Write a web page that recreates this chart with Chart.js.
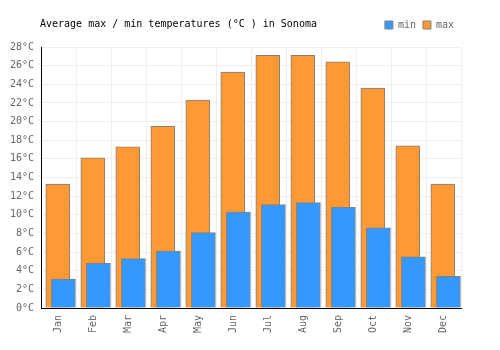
<!DOCTYPE html>
<html>
<head>
<meta charset="utf-8">
<script src="https://cdn.jsdelivr.net/npm/chart.js@4"></script>
<style>
  html, body { margin: 0; padding: 0; background: #fff; }
  #wrap { width: 500px; height: 350px; }
</style>
</head>
<body>
<div id="wrap"><canvas id="canvas" width="500" height="350"></canvas></div>
<script>
const months = ['Jan', 'Feb', 'Mar', 'Apr', 'May', 'Jun', 'Jul', 'Aug', 'Sep', 'Oct', 'Nov', 'Dec'];
const minTemps = [3.1, 4.8, 5.3, 6.1, 8.1, 10.3, 11.1, 11.3, 10.8, 8.6, 5.5, 3.4];
const maxTemps = [13.3, 16.1, 17.3, 19.5, 22.3, 25.3, 27.1, 27.1, 26.4, 23.6, 17.4, 13.3];
const yMin = 0, yMax = 28, yStep = 2;

const mono = 'DejaVu Sans Mono';
const titleText = 'Average max / min temperatures (°C ) in Sonoma';

// bars overlap a little: max sits left, min shifted right
const maxShift = -0.02;
const minShift = 0.14;

const titlePlugin = {
  id: 'leftTitle',
  afterInit(chart) {
    // extra room under the legend row
    const lg = chart.legend;
    if (lg) {
      const fit = lg.fit;
      lg.fit = function () { fit.call(this); this.height += 7; };
    }
  },
  afterDraw(chart) {
    const c = chart.ctx;
    c.save();
    c.font = '10px "' + mono + '"';
    c.fillStyle = '#000';
    c.textBaseline = 'middle';
    c.textAlign = 'left';
    c.fillText(titleText, 40, 24);
    c.restore();
  }
};

const ctx = document.getElementById('canvas');
const chart = new Chart(ctx, {
  type: 'bar',
  data: {
    labels: months,
    datasets: [{
      label: 'min',
      data: minTemps.map((v, i) => ({ x: i + minShift, y: v })),
      xAxisID: 'xb',
      backgroundColor: 'rgb(51, 153, 255)',
      borderColor: '#808080',
      borderWidth: 1,
      grouped: false,
      barThickness: 24
    }, {
      label: 'max',
      data: maxTemps.map((v, i) => ({ x: i + maxShift, y: v })),
      xAxisID: 'xb',
      backgroundColor: 'rgb(255, 153, 51)',
      borderColor: '#808080',
      borderWidth: 1,
      grouped: false,
      barThickness: 24
    }]
  },
  options: {
    responsive: false,
    animation: false,
    layout: { padding: { left: 0, right: 39, top: 13, bottom: 0 } },
    plugins: {
      title: { display: false },
      tooltip: { enabled: false },
      legend: {
        position: 'top',
        align: 'end',
        labels: {
          boxWidth: 8,
          boxHeight: 8,
          padding: 7,
          color: '#666',
          font: { family: mono, size: 10 }
        }
      }
    },
    scales: {
      x: {
        type: 'category',
        offset: true,
        grid: { offset: true, color: '#eeeeee', drawTicks: false },
        border: { color: '#000', width: 1 },
        ticks: {
          color: '#666',
          font: { family: mono, size: 10 },
          minRotation: 90,
          maxRotation: 90,
          padding: 7
        },
        afterFit(scale) { scale.height = 42; }
      },
      xb: {
        type: 'linear',
        display: false,
        offset: false,
        min: -0.5,
        max: 11.5
      },
      y: {
        min: yMin,
        max: yMax,
        grid: { color: '#eeeeee', drawTicks: false },
        border: { color: '#000', width: 1 },
        ticks: {
          stepSize: yStep,
          color: '#666',
          padding: 7,
          font: { family: mono, size: 10 },
          callback: v => v + '°C'
        },
        afterFit(scale) { scale.width = 41; }
      }
    }
  },
  plugins: [titlePlugin]
});
</script>
</body>
</html>
